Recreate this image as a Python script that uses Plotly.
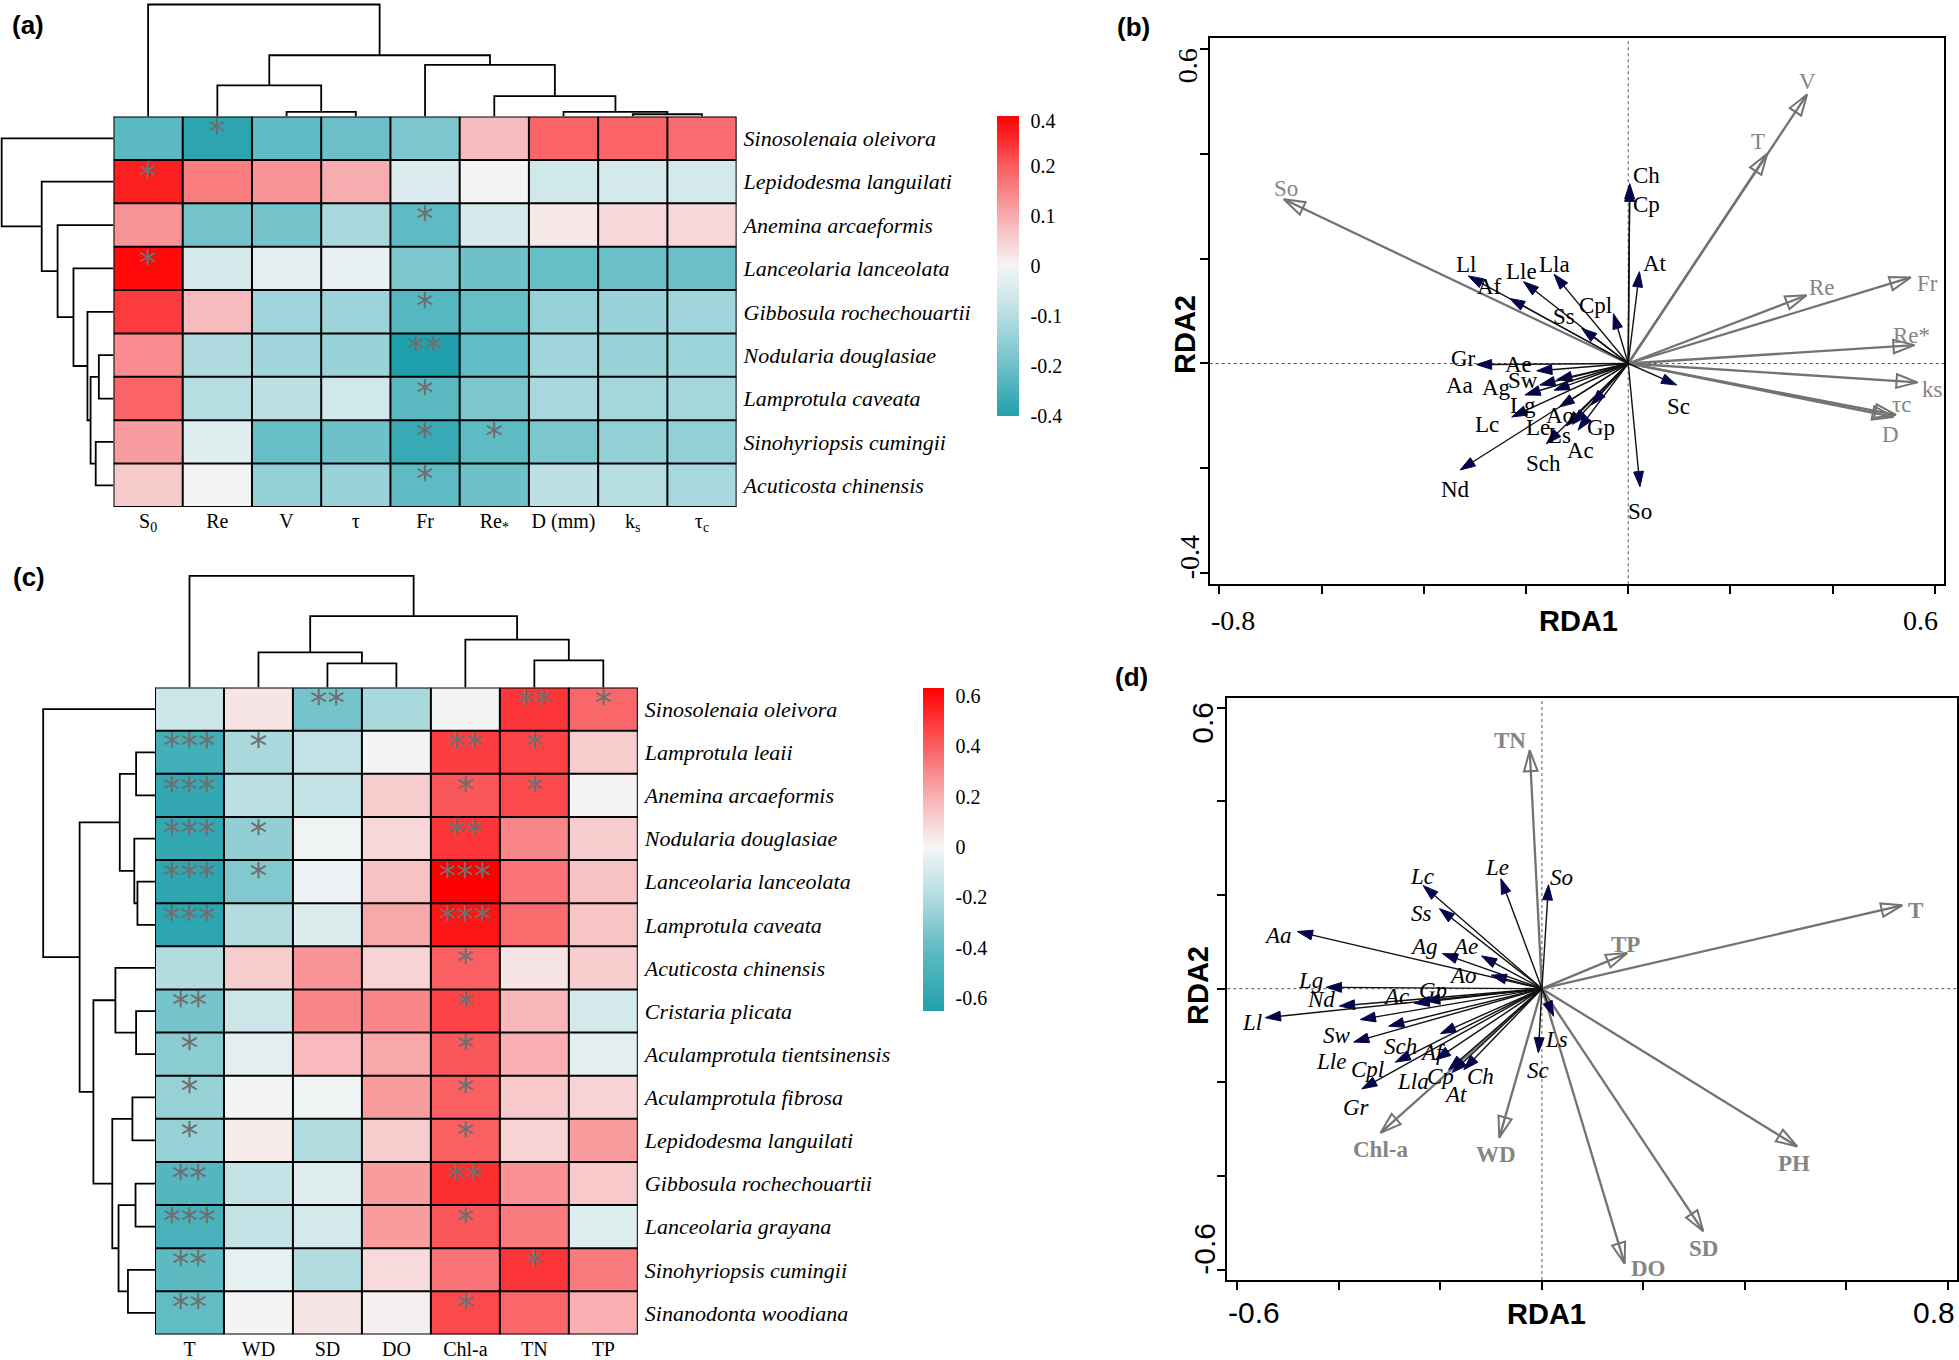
import numpy as np
import plotly.graph_objects as go

W, H = 1959, 1360

# ------------------------------------------------------------------ data (a)
A_COLS = ["S<sub>0</sub>", "Re", "V", "τ", "Fr", "Re<sub>*</sub>", "D (mm)", "k<sub>s</sub>", "τ<sub>c</sub>"]
A_ROWS = ["Sinosolenaia oleivora", "Lepidodesma languilati", "Anemina arcaeformis",
          "Lanceolaria lanceolata", "Gibbosula rochechouartii", "Nodularia douglasiae",
          "Lamprotula caveata", "Sinohyriopsis cumingii", "Acuticosta chinensis"]
A_VALUES = [
    [-0.25, -0.37, -0.24, -0.21, -0.18, 0.08, 0.19, 0.19, 0.18],
    [0.35, 0.16, 0.13, 0.10, -0.04, -0.005, -0.06, -0.055, -0.055],
    [0.13, -0.19, -0.19, -0.12, -0.24, -0.05, 0.02, 0.04, 0.04],
    [0.40, -0.05, -0.03, -0.02, -0.18, -0.20, -0.22, -0.21, -0.21],
    [0.28, 0.08, -0.13, -0.135, -0.26, -0.22, -0.145, -0.14, -0.13],
    [0.14, -0.11, -0.13, -0.14, -0.40, -0.23, -0.13, -0.14, -0.135],
    [0.19, -0.10, -0.09, -0.06, -0.25, -0.18, -0.12, -0.125, -0.125],
    [0.12, -0.035, -0.22, -0.20, -0.34, -0.24, -0.18, -0.15, -0.15],
    [0.06, -0.005, -0.15, -0.14, -0.24, -0.20, -0.09, -0.10, -0.12],
]
A_SIG = [
    ["", "*", "", "", "", "", "", "", ""],
    ["*", "", "", "", "", "", "", "", ""],
    ["", "", "", "", "*", "", "", "", ""],
    ["*", "", "", "", "", "", "", "", ""],
    ["", "", "", "", "*", "", "", "", ""],
    ["", "", "", "", "**", "", "", "", ""],
    ["", "", "", "", "*", "", "", "", ""],
    ["", "", "", "", "*", "*", "", "", ""],
    ["", "", "", "", "*", "", "", "", ""],
]
# colour-key breaks of panel (a) (non-linear legend) and their legend slots
A_BREAKS = [-0.4, -0.2, -0.1, 0.0, 0.1, 0.2, 0.4]
A_BREAK_LABELS = ["-0.4", "-0.2", "-0.1", "0", "0.1", "0.2", "0.4"]
A_BREAK_SLOTS = [-3.0, -2.0, -1.0, 0.0, 1.0, 2.0, 2.9]
# dendrogram merges (left, right, height) -- new node id = n + k
A_COL_MERGES = [(2, 3, 0.042), (1, 9, 0.279), (7, 8, 0.021), (6, 11, 0.042),
                (5, 12, 0.183), (4, 13, 0.462), (10, 14, 0.547), (0, 15, 1.0)]
A_ROW_MERGES = [(7, 8, 0.159), (5, 6, 0.131), (10, 9, 0.205), (4, 11, 0.233),
                (3, 12, 0.358), (2, 13, 0.5), (1, 14, 0.642), (0, 15, 1.0)]

# ------------------------------------------------------------------ data (c)
C_COLS = ["T", "WD", "SD", "DO", "Chl-a", "TN", "TP"]
C_ROWS = ["Sinosolenaia oleivora", "Lamprotula leaii", "Anemina arcaeformis",
          "Nodularia douglasiae", "Lanceolaria lanceolata", "Lamprotula caveata",
          "Acuticosta chinensis", "Cristaria plicata", "Aculamprotula tientsinensis",
          "Aculamprotula fibrosa", "Lepidodesma languilati", "Gibbosula rochechouartii",
          "Lanceolaria grayana", "Sinohyriopsis cumingii", "Sinanodonta woodiana"]
C_VALUES = [
    [-0.12, 0.05, -0.35, -0.22, -0.01, 0.50, 0.38],
    [-0.52, -0.22, -0.15, -0.01, 0.48, 0.47, 0.12],
    [-0.58, -0.17, -0.15, 0.12, 0.42, 0.45, 0.01],
    [-0.58, -0.28, -0.02, 0.09, 0.50, 0.30, 0.12],
    [-0.60, -0.32, -0.03, 0.15, 0.63, 0.35, 0.15],
    [-0.60, -0.20, -0.08, 0.22, 0.58, 0.37, 0.14],
    [-0.20, 0.12, 0.27, 0.10, 0.40, 0.05, 0.12],
    [-0.35, -0.12, 0.30, 0.30, 0.47, 0.18, -0.10],
    [-0.30, -0.06, 0.17, 0.22, 0.42, 0.20, -0.06],
    [-0.27, -0.01, -0.02, 0.25, 0.40, 0.13, 0.10],
    [-0.27, 0.03, -0.20, 0.12, 0.40, 0.10, 0.25],
    [-0.45, -0.15, -0.07, 0.25, 0.52, 0.28, 0.13],
    [-0.50, -0.15, -0.10, 0.25, 0.42, 0.33, -0.07],
    [-0.42, -0.05, -0.20, 0.08, 0.35, 0.50, 0.33],
    [-0.40, -0.01, 0.05, 0.02, 0.45, 0.38, 0.20],
]
C_SIG = [
    ["", "", "**", "", "", "**", "*"],
    ["***", "*", "", "", "**", "*", ""],
    ["***", "", "", "", "*", "*", ""],
    ["***", "*", "", "", "**", "", ""],
    ["***", "*", "", "", "***", "", ""],
    ["***", "", "", "", "***", "", ""],
    ["", "", "", "", "*", "", ""],
    ["**", "", "", "", "*", "", ""],
    ["*", "", "", "", "*", "", ""],
    ["*", "", "", "", "*", "", ""],
    ["*", "", "", "", "*", "", ""],
    ["**", "", "", "", "**", "", ""],
    ["***", "", "", "", "*", "", ""],
    ["**", "", "", "", "", "*", ""],
    ["**", "", "", "", "*", "", ""],
]
C_TICKS = [0.6, 0.4, 0.2, 0.0, -0.2, -0.4, -0.6]
C_TICK_LABELS = ["0.6", "0.4", "0.2", "0", "-0.2", "-0.4", "-0.6"]
C_COL_MERGES = [(2, 3, 0.217), (1, 7, 0.316), (5, 6, 0.244), (4, 9, 0.429),
                (8, 10, 0.641), (0, 11, 1.0)]
C_ROW_MERGES = [(1, 2, 0.169), (4, 5, 0.157), (3, 16, 0.185), (15, 17, 0.315),
                (7, 8, 0.169), (6, 19, 0.354), (9, 10, 0.202), (11, 12, 0.174),
                (13, 14, 0.242), (22, 23, 0.326), (21, 24, 0.382), (20, 25, 0.551),
                (18, 26, 0.674), (0, 27, 1.0)]

# ------------------------------------------------------------------ data (b)
B_SP = ["Ch", "Cp", "At", "Ll", "Af", "Lle", "Lla", "Cpl", "Ss", "Gr", "Ae", "Aa", "Sw",
        "Ag", "Lg", "Lc", "Ao", "Le", "Ls", "Ac", "Sch", "Gp", "Nd", "Sc", "So"]
B_SP_X = [0.003, 0.003, 0.022, -0.313, -0.232, -0.205, -0.145, -0.029, -0.091, -0.297,
          -0.179, -0.140, -0.145, -0.202, -0.173, -0.228, -0.135, -0.121, -0.109, -0.098,
          -0.160, -0.072, -0.329, 0.095, 0.023]
B_SP_Y = [0.343, 0.338, 0.175, 0.167, 0.124, 0.156, 0.170, 0.095, 0.067, -0.002,
          -0.014, -0.031, -0.051, -0.060, -0.041, -0.102, -0.083, -0.119, -0.116, -0.127,
          -0.153, -0.079, -0.203, -0.041, -0.235]
B_ENV = ["So", "V", "T", "Re", "Fr", "Re*", "ks", "τc", "D"]
B_ENV_X = [-0.674, 0.350, 0.272, 0.349, 0.553, 0.560, 0.566, 0.524, 0.519]
B_ENV_Y = [0.313, 0.513, 0.400, 0.130, 0.164, 0.035, -0.036, -0.098, -0.102]
B_XTICKS = [-0.8, -0.6, -0.4, -0.2, 0.0, 0.2, 0.4, 0.6]
B_YTICKS = [-0.4, -0.2, 0.0, 0.2, 0.4, 0.6]

# ------------------------------------------------------------------ data (d)
D_SP = ["Lc", "Le", "So", "Ss", "Aa", "Ag", "Ae", "Ao", "Lg", "Nd", "Ll", "Ac", "Gp",
        "Sw", "Sch", "Af", "Lle", "Cpl", "Gr", "Lla", "Cp", "At", "Ch", "Ls", "Sc"]
D_SP_X = [-0.234, -0.081, 0.013, -0.202, -0.482, -0.196, -0.119, -0.100, -0.425, -0.399,
          -0.545, -0.252, -0.231, -0.358, -0.302, -0.200, -0.371, -0.289, -0.355, -0.210,
          -0.184, -0.177, -0.154, 0.023, -0.007]
D_SP_Y = [0.220, 0.235, 0.222, 0.171, 0.122, 0.075, 0.070, 0.029, 0.003, -0.037,
          -0.062, -0.031, -0.026, -0.066, -0.080, -0.096, -0.114, -0.157, -0.214, -0.152,
          -0.173, -0.179, -0.173, -0.059, -0.137]
D_ENV = ["TN", "TP", "T", "PH", "SD", "DO", "WD", "Chl-a"]
D_ENV_X = [-0.024, 0.168, 0.710, 0.503, 0.318, 0.163, -0.084, -0.318]
D_ENV_Y = [0.509, 0.076, 0.178, -0.337, -0.518, -0.587, -0.318, -0.308]
D_XTICKS = [-0.6, -0.4, -0.2, 0.0, 0.2, 0.4, 0.6, 0.8]
D_YTICKS = [-0.6, -0.4, -0.2, 0.0, 0.2, 0.4, 0.6]

# ------------------------------------------------------------------ styles
SERIF = "Liberation Serif"
SANS = "Liberation Sans"
NAVY = "#05054a"
ENV_GRAY = "#737373"
STAR_GRAY = "#6f6f6f"

B_SP_SHIFT = {"Ch": (17, 8), "Cp": (17, -18), "At": (16, 8), "Ll": (-2, 11), "Af": (-20, 12),
              "Lle": (-2, 10), "Lla": (0, 10), "Cpl": (-18, 8), "Ss": (-18, 12), "Gr": (-13, 6),
              "Ae": (-18, 6), "Aa": (-97, -6), "Sw": (-31, 10), "Ag": (-28, 7), "Lg": (-17, -21),
              "Lc": (-25, -8), "Ao": (1, -8), "Le": (-28, -2), "Ls": (-13, -11), "Ac": (2, -20),
              "Sch": (-3, -20), "Gp": (10, -23), "Nd": (-5, -20), "Sc": (2, -22), "So": (0, -25)}
B_ENV_SHIFT = {"So": (2, 11), "V": (0, 13), "T": (-9, 12), "Re": (15, 8), "Fr": (17, -6),
               "Re*": (-3, 10), "ks": (15, -7), "τc": (6, 10), "D": (-3, -18)}
D_SP_SHIFT = {"Lc": (-1, 9), "Le": (-4, 11), "So": (13, 7), "Ss": (-18, -5), "Aa": (-19, -4),
              "Ag": (-18, 7), "Ae": (-17, 9), "Ao": (-28, 0), "Lg": (-16, 7), "Nd": (-18, 7),
              "Ll": (-13, -5), "Ac": (-18, 7), "Gp": (8, 10), "Sw": (-23, -16), "Sch": (12, -20),
              "Af": (-7, -19), "Lle": (-23, -19), "Cpl": (-28, -7), "Gr": (-5, -19),
              "Lla": (-22, -22), "Cp": (-8, -7), "At": (3, -22), "Ch": (17, -7), "Ls": (3, -23),
              "Sc": (0, -18)}
D_ENV_SHIFT = {"TN": (-20, 10), "TP": (-2, 9), "T": (13, -5), "PH": (-3, -17), "SD": (0, -17),
               "DO": (24, -5), "WD": (-3, -17), "Chl-a": (0, -17)}

A_SCALE = [[0.0, "rgb(32,160,172)"], [1 / 6, "rgb(110,193,201)"], [2 / 6, "rgb(182,222,226)"],
           [0.5, "rgb(246,246,246)"], [4 / 6, "rgb(247,172,175)"], [5 / 6, "rgb(250,92,95)"],
           [1.0, "rgb(255,0,0)"]]
C_ZMIN, C_ZMAX = -0.653, 0.631


def cpos(v):
    return (v - C_ZMIN) / (C_ZMAX - C_ZMIN)


C_SCALE = [[0.0, "rgb(32,160,172)"], [cpos(-0.4), "rgb(98,188,196)"], [cpos(-0.2), "rgb(178,220,224)"],
           [cpos(0.0), "rgb(246,246,246)"], [cpos(0.2), "rgb(248,176,178)"], [cpos(0.4), "rgb(250,95,98)"],
           [1.0, "rgb(255,0,0)"]]


def px_x(p):
    return p / W


def px_y(p):
    return 1 - p / H


def dendro(merges, n):
    pos = {i: float(i) for i in range(n)}
    hgt = {i: 0.0 for i in range(n)}
    ps, hs = [], []
    for k, (a, b, h) in enumerate(merges):
        ps += [pos[a], pos[a], pos[b], pos[b], None]
        hs += [hgt[a], h, h, hgt[b], None]
        pos[n + k] = (pos[a] + pos[b]) / 2
        hgt[n + k] = h
    return ps, hs


fig = go.Figure()
shapes, annotations = [], []


def ann(**kw):
    d = dict(showarrow=False, xanchor="center", yanchor="middle")
    d.update(kw)
    annotations.append(d)


def heatmap_panel(vals, sig, rows, cols, ax, zvals, zmin, zmax, scale, cbar, col_m, row_m,
                  dax_top, dax_left):
    nr, nc = len(rows), len(cols)
    xa, ya = ax
    fig.add_trace(go.Heatmap(z=zvals, x=list(range(nc)), y=list(range(nr)), zmin=zmin, zmax=zmax,
                             colorscale=scale, colorbar=cbar, xaxis=xa, yaxis=ya,
                             hoverinfo="skip"))
    sx, sy, st = [], [], []
    for i in range(nr):
        for j in range(nc):
            if sig[i][j]:
                sx.append(j)
                sy.append(i - 0.06)
                st.append(sig[i][j])
    fig.add_trace(go.Scatter(x=sx, y=sy, text=st, mode="text", xaxis=xa, yaxis=ya,
                             textfont=dict(family="DejaVu Sans", size=35, color=STAR_GRAY),
                             hoverinfo="skip", showlegend=False))
    for j in range(nc + 1):
        shapes.append(dict(type="line", xref=xa, yref=ya, x0=j - 0.5, x1=j - 0.5, y0=-0.5,
                           y1=nr - 0.5, line=dict(color="black", width=2), layer="above"))
    for i in range(nr + 1):
        shapes.append(dict(type="line", xref=xa, yref=ya, x0=-0.5, x1=nc - 0.5, y0=i - 0.5,
                           y1=i - 0.5, line=dict(color="black", width=2), layer="above"))
    p, h = dendro(col_m, nc)
    fig.add_trace(go.Scatter(x=p, y=h, mode="lines", line=dict(color="black", width=1.8),
                             xaxis=dax_top[0], yaxis=dax_top[1], hoverinfo="skip",
                             showlegend=False))
    p, h = dendro(row_m, nr)
    fig.add_trace(go.Scatter(x=h, y=p, mode="lines", line=dict(color="black", width=1.8),
                             xaxis=dax_left[0], yaxis=dax_left[1], hoverinfo="skip",
                             showlegend=False))


# panel (a)
a_z = np.interp(np.array(A_VALUES), A_BREAKS, A_BREAK_SLOTS)
cbar_a = dict(x=px_x(996.7), xanchor="left", y=px_y(116), yanchor="top", len=300,
              lenmode="pixels", thickness=22, thicknessmode="pixels", outlinewidth=0,
              tickvals=A_BREAK_SLOTS, ticktext=A_BREAK_LABELS, ticks="outside", ticklen=8,
              tickcolor="rgba(0,0,0,0)", tickfont=dict(family=SERIF, size=20, color="black"),
              xpad=0, ypad=0)
heatmap_panel(A_VALUES, A_SIG, A_ROWS, A_COLS, ("x", "y"), a_z, -3.0, 3.0, A_SCALE, cbar_a,
              A_COL_MERGES, A_ROW_MERGES, ("x2", "y2"), ("x3", "y3"))

# panel (c)
cbar_c = dict(x=px_x(922.7), xanchor="left", y=px_y(688.3), yanchor="top", len=323.4,
              lenmode="pixels", thickness=21, thicknessmode="pixels", outlinewidth=0,
              tickvals=C_TICKS, ticktext=C_TICK_LABELS, ticks="outside", ticklen=8,
              tickcolor="rgba(0,0,0,0)", tickfont=dict(family=SERIF, size=20, color="black"),
              xpad=0, ypad=0)
heatmap_panel(C_VALUES, C_SIG, C_ROWS, C_COLS, ("x5", "y5"), C_VALUES, C_ZMIN, C_ZMAX, C_SCALE,
              cbar_c, C_COL_MERGES, C_ROW_MERGES, ("x6", "y6"), ("x7", "y7"))


# RDA panels
def arrows(xs, ys, ax, lcolor, lw, symbol, size, mcolor, mline, mlw):
    for x, y in zip(xs, ys):
        fig.add_trace(go.Scatter(
            x=[0, x], y=[0, y], mode="lines+markers", xaxis=ax[0], yaxis=ax[1],
            line=dict(color=lcolor, width=lw),
            marker=dict(symbol=symbol, size=[0, size], angleref="previous", color=mcolor,
                        opacity=1, line=dict(color=mline, width=mlw)),
            hoverinfo="skip", showlegend=False))


def labels(names, xs, ys, ax, shift, font, fmt="{}"):
    for n, x, y in zip(names, xs, ys):
        dx, dy = shift.get(n, (0, 0))
        ann(x=x, y=y, xref=ax[0], yref=ax[1], text=fmt.format(n), xshift=dx, yshift=dy, font=font)


def zero_lines(ax):
    shapes.append(dict(type="line", xref=ax[0], yref=ax[1] + " domain", x0=0, x1=0, y0=0, y1=1,
                       line=dict(color="#555555", width=1, dash="dot"), layer="below"))
    shapes.append(dict(type="line", xref=ax[0] + " domain", yref=ax[1], x0=0, x1=1, y0=0, y1=0,
                       line=dict(color="#555555", width=1, dash="dot"), layer="below"))


LBL = 23
zero_lines(("x4", "y4"))
arrows(B_ENV_X, B_ENV_Y, ("x4", "y4"), ENV_GRAY, 2.3, "arrow-open", 22, ENV_GRAY, ENV_GRAY, 2)
arrows(B_SP_X, B_SP_Y, ("x4", "y4"), "#111111", 1.4, "arrow", 16, NAVY, NAVY, 1)
labels(B_ENV, B_ENV_X, B_ENV_Y, ("x4", "y4"), B_ENV_SHIFT,
       dict(family=SERIF, size=LBL, color="#858585"))
labels(B_SP, B_SP_X, B_SP_Y, ("x4", "y4"), B_SP_SHIFT, dict(family=SERIF, size=LBL, color="black"))

zero_lines(("x8", "y8"))
arrows(D_ENV_X, D_ENV_Y, ("x8", "y8"), ENV_GRAY, 2.3, "arrow-open", 22, ENV_GRAY, ENV_GRAY, 2)
arrows(D_SP_X, D_SP_Y, ("x8", "y8"), "#111111", 1.4, "arrow", 16, NAVY, NAVY, 1)
labels(D_ENV, D_ENV_X, D_ENV_Y, ("x8", "y8"), D_ENV_SHIFT,
       dict(family=SERIF, size=LBL, color="#858585"), "<b>{}</b>")
labels(D_SP, D_SP_X, D_SP_Y, ("x8", "y8"), D_SP_SHIFT, dict(family=SERIF, size=LBL, color="black"),
       "<i>{}</i>")

# tick labels and titles of RDA panels
tf_b = dict(family=SERIF, size=28, color="black")
tf_d = dict(family=SANS, size=30, color="black")
title_f = dict(family=SANS, size=29, color="black", weight="bold")
ann(x=B_XTICKS[0], xref="x4", y=px_y(621), yref="paper", text="-0.8", xanchor="left", xshift=-10, font=tf_b)
ann(x=B_XTICKS[-1], xref="x4", y=px_y(621), yref="paper", text="0.6", xanchor="right", xshift=5, font=tf_b)
ann(x=px_x(1187), xref="paper", y=B_YTICKS[-1], yref="y4", text="0.6", textangle=-90,
    yanchor="top", yshift=2, font=tf_b)
ann(x=px_x(1189), xref="paper", y=B_YTICKS[0], yref="y4", text="-0.4", textangle=-90,
    yanchor="bottom", yshift=-8, font=tf_b)
ann(x=px_x(1578), xref="paper", y=px_y(621), yref="paper", text="RDA1", font=title_f)
ann(x=px_x(1185), xref="paper", y=px_y(335), yref="paper", text="RDA2", textangle=-90, font=title_f)
ann(x=D_XTICKS[0], xref="x8", y=px_y(1312), yref="paper", text="-0.6", xanchor="left", xshift=-11, font=tf_d)
ann(x=D_XTICKS[-1], xref="x8", y=px_y(1312), yref="paper", text="0.8", xanchor="right", xshift=9, font=tf_d)
ann(x=px_x(1203), xref="paper", y=D_YTICKS[-1], yref="y8", text="0.6", textangle=-90,
    yanchor="top", yshift=8, font=tf_d)
ann(x=px_x(1205), xref="paper", y=D_YTICKS[0], yref="y8", text="-0.6", textangle=-90,
    yanchor="bottom", yshift=-7, font=tf_d)
ann(x=px_x(1546), xref="paper", y=px_y(1314), yref="paper", text="RDA1", font=title_f)
ann(x=px_x(1198), xref="paper", y=px_y(986), yref="paper", text="RDA2", textangle=-90, font=title_f)

pf = dict(family=SANS, size=26, color="black", weight="bold")
for t, x, y in [("(a)", 28, 25), ("(b)", 1133, 27), ("(c)", 29, 577), ("(d)", 1131, 677)]:
    ann(x=px_x(x), y=px_y(y), xref="paper", yref="paper", text=t, font=pf)

hidden = dict(visible=False, showgrid=False, zeroline=False)


def hm_x(dom, n, labels_):
    return dict(domain=dom, range=[-0.5, n - 0.5], tickvals=list(range(n)), ticktext=labels_,
                ticks="", showgrid=False, zeroline=False, showline=False,
                tickfont=dict(family=SERIF, size=20, color="black"))


def hm_y(dom, n, labels_):
    return dict(domain=dom, range=[n - 0.5, -0.5], tickvals=list(range(n)),
                ticktext=["<i>%s</i>" % s for s in labels_], side="right", ticks="",
                ticklabelstandoff=6, showgrid=False, zeroline=False, showline=False,
                tickfont=dict(family=SERIF, size=22, color="black"))


def rda_axis(dom, rng, tv):
    return dict(domain=dom, range=rng, tickvals=tv, showticklabels=False, ticks="outside",
                ticklen=8, tickwidth=2, tickcolor="black", showline=True, linewidth=2,
                linecolor="black", mirror=True, showgrid=False, zeroline=False)


A_X = [px_x(113.5), px_x(736.6)]
A_Y = [px_y(507), px_y(116.6)]
C_X = [px_x(155), px_x(637.8)]
C_Y = [px_y(1334.5), px_y(687.6)]

fig.update_layout(
    width=W, height=H, margin=dict(l=0, r=0, t=0, b=0), autosize=False,
    paper_bgcolor="white", plot_bgcolor="white", showlegend=False,
    xaxis=dict(anchor="y", **hm_x(A_X, 9, A_COLS)),
    yaxis=dict(anchor="x", **hm_y(A_Y, 9, A_ROWS)),
    xaxis2=dict(anchor="y2", domain=A_X, range=[-0.5, 8.5], **hidden),
    yaxis2=dict(anchor="x2", domain=[px_y(116.6), px_y(2.8)], range=[0, 1.015], **hidden),
    xaxis3=dict(anchor="y3", domain=[0, px_x(113.5)], range=[1.015, 0], **hidden),
    yaxis3=dict(anchor="x3", domain=A_Y, range=[8.5, -0.5], **hidden),
    xaxis4=dict(anchor="y4", **rda_axis([px_x(1209.7), px_x(1944)], [-0.819, 0.618], B_XTICKS)),
    yaxis4=dict(anchor="x4", **rda_axis([px_y(584.3), px_y(38.3)], [-0.421, 0.620], B_YTICKS)),
    xaxis5=dict(anchor="y5", **hm_x(C_X, 7, C_COLS)),
    yaxis5=dict(anchor="x5", **hm_y(C_Y, 15, C_ROWS)),
    xaxis6=dict(anchor="y6", domain=C_X, range=[-0.5, 6.5], **hidden),
    yaxis6=dict(anchor="x6", domain=[px_y(687.6), px_y(574.3)], range=[0, 1.015], **hidden),
    xaxis7=dict(anchor="y7", domain=[px_x(41.5), px_x(155)], range=[1.015, 0], **hidden),
    yaxis7=dict(anchor="x7", domain=C_Y, range=[14.5, -0.5], **hidden),
    xaxis8=dict(anchor="y8", **rda_axis([px_x(1227.3), px_x(1957)], [-0.620, 0.818], D_XTICKS)),
    yaxis8=dict(anchor="x8", **rda_axis([px_y(1280), px_y(698.3)], [-0.622, 0.620], D_YTICKS)),
    shapes=shapes, annotations=annotations,
)

fig.write_html("out.html", config={"displayModeBar": False},
               post_script="document.body.style.margin='0px';")
